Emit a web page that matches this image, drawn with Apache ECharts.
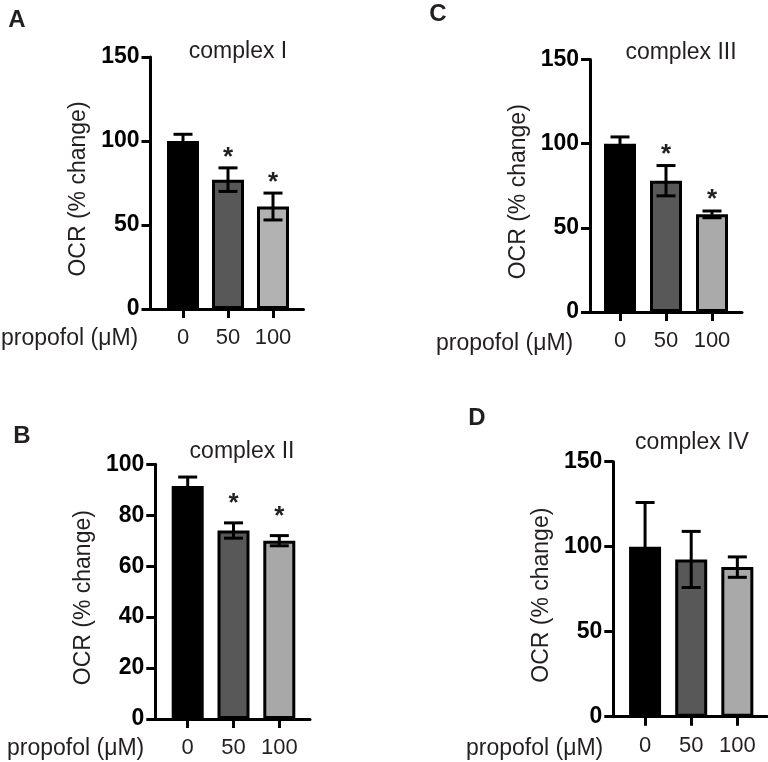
<!DOCTYPE html>
<html>
<head>
<meta charset="utf-8">
<script src="https://cdn.jsdelivr.net/npm/echarts@6/dist/echarts.min.js"></script>
<style>
  html, body { margin: 0; padding: 0; background: #fff; }
  #chart { width: 768px; height: 762px; }
</style>
</head>
<body>
<div id="chart"></div>
<script>
// data
const categories = ['0', '50', '100'];

const complexI = [100, 77, 61];
const complexIErr = [4, 7, 8];
const complexISig = [false, true, true];

const complexII = [91.5, 74, 70];
const complexIIErr = [3.5, 3, 2];
const complexIISig = [false, true, true];

const complexIII = [100, 78, 58];
const complexIIIErr = [4, 9, 2];
const complexIIISig = [false, true, true];

const complexIV = [100, 92.5, 88];
const complexIVErr = [26, 16.5, 6];
const complexIVSig = [false, false, false];

const ticks150 = { max: 150, interval: 50 };
const ticks100 = { max: 100, interval: 20 };

// layout per panel (pixels)
const panels = [
  { letter: 'A', title: 'complex I', means: complexI, err: complexIErr, sig: complexISig, ticks: ticks150,
    top: 57, height: 252, frameLeft: 150.5, frameW: 153, mainLeft: 160.5, mainW: 135,
    titleX: 238, titleY: 52, letterX: 17, letterY: 20, propX: 1, propY: 339, starGap: 16, lightGray: '#b2b2b2' },
  { letter: 'B', title: 'complex II', means: complexII, err: complexIIErr, sig: complexIISig, ticks: ticks100,
    top: 464.3, height: 254.7, frameLeft: 155.3, frameW: 154.7, mainLeft: 164.8, mainW: 137.4,
    titleX: 242, titleY: 452, letterX: 22, letterY: 436, propX: 7, propY: 749, starGap: 25, lightGray: '#a8a8a8' },
  { letter: 'C', title: 'complex III', means: complexIII, err: complexIIIErr, sig: complexIIISig, ticks: ticks150,
    top: 59.5, height: 252.5, frameLeft: 590, frameW: 152, mainLeft: 597, mainW: 138,
    titleX: 681, titleY: 53, letterX: 438, letterY: 14, propX: 436, propY: 344, starGap: 17, lightGray: '#aaaaaa' },
  { letter: 'D', title: 'complex IV', means: complexIV, err: complexIVErr, sig: complexIVSig, ticks: ticks150,
    top: 461.7, height: 255, frameLeft: 613.3, frameW: 153.7, mainLeft: 622, mainW: 138.4,
    titleX: 692, titleY: 443, letterX: 477, letterY: 418, propX: 466, propY: 749, starGap: 17, lightGray: '#a9a9a9' }
];

const FONT = '"Liberation Sans", Arial, Helvetica, sans-serif';
const INK = '#000';

const chart = echarts.init(document.getElementById('chart'), null, { renderer: 'canvas' });

const grid = [], xAxis = [], yAxis = [], series = [], graphic = [];

panels.forEach((p, i) => {
  const fg = i * 2, mg = i * 2 + 1;
  // frame grid: y axis + full length x axis line
  grid.push({ left: p.frameLeft, top: p.top, width: p.frameW, height: p.height });
  // main grid: bars
  grid.push({ left: p.mainLeft, top: p.top, width: p.mainW, height: p.height });

  xAxis.push({
    gridIndex: fg, type: 'value', min: 0, max: 1,
    axisLine: { show: true, lineStyle: { color: INK, width: 3 } },
    axisTick: { show: false }, axisLabel: { show: false }, splitLine: { show: false }
  });
  xAxis.push({
    gridIndex: mg, type: 'category', data: categories,
    axisLine: { show: false },
    axisTick: { show: true, interval: 0, alignWithLabel: true, length: 9, lineStyle: { color: INK, width: 3 } },
    axisLabel: { interval: 0, fontSize: 22, color: '#231f20', fontFamily: FONT, margin: 18 }
  });

  yAxis.push({
    gridIndex: fg, type: 'value', min: 0, max: p.ticks.max, interval: p.ticks.interval,
    name: 'OCR (% change)', nameLocation: 'middle', nameGap: 60,
    nameTextStyle: { fontSize: 23, color: '#231f20', fontFamily: FONT, padding: [0, 12, 0, 0] },
    axisLine: { show: true, lineStyle: { color: INK, width: 3 } },
    axisTick: { show: true, length: 9, lineStyle: { color: INK, width: 3 } },
    axisLabel: { fontSize: 23, fontWeight: 'bold', color: '#000', fontFamily: FONT, margin: 11 },
    splitLine: { show: false }
  });
  yAxis.push({ gridIndex: mg, type: 'value', min: 0, max: p.ticks.max, show: false });

  const barColors = ['#000000', '#585858', p.lightGray];
  series.push({
    type: 'bar', xAxisIndex: mg, yAxisIndex: mg, barWidth: 32,
    data: p.means.map((v, k) => ({ value: v, itemStyle: { color: barColors[k] } })),
    itemStyle: { borderColor: INK, borderWidth: 3 },
    silent: true
  });
  series.push({
    type: 'custom', xAxisIndex: mg, yAxisIndex: mg, z: 5, silent: true,
    data: p.means.map((v, k) => [k, v, p.err[k], p.sig[k] ? 1 : 0]),
    renderItem: (params, api) => {
      const k = api.value(0), m = api.value(1), e = api.value(2);
      const hi = api.coord([k, m + e]);
      const lo = api.coord([k, m - e]);
      const cap = 9.5;
      const st = { stroke: INK, lineWidth: 3 };
      const children = [
        { type: 'line', shape: { x1: hi[0], y1: hi[1], x2: lo[0], y2: lo[1] }, style: st },
        { type: 'line', shape: { x1: hi[0] - cap, y1: hi[1], x2: hi[0] + cap, y2: hi[1] }, style: st },
        { type: 'line', shape: { x1: lo[0] - cap, y1: lo[1], x2: lo[0] + cap, y2: lo[1] }, style: st }
      ];
      if (api.value(3)) {
        children.push({
          type: 'text', x: hi[0], y: hi[1] - p.starGap + 6,
          style: { text: '*', font: 'bold 26px ' + FONT, fill: '#231f20', textAlign: 'center', textVerticalAlign: 'middle' }
        });
      }
      return { type: 'group', children };
    }
  });

  graphic.push(
    { type: 'text', x: p.letterX, y: p.letterY,
      style: { text: p.letter, font: 'bold 24px ' + FONT, fill: '#231f20', textAlign: 'center', textVerticalAlign: 'middle' } },
    { type: 'text', x: p.titleX, y: p.titleY,
      style: { text: p.title, font: '23px ' + FONT, fill: '#231f20', textAlign: 'center', textVerticalAlign: 'middle' } },
    { type: 'text', x: p.propX, y: p.propY,
      style: { text: 'propofol (μM)', font: '23px ' + FONT, fill: '#231f20', textAlign: 'left', textVerticalAlign: 'middle' } }
  );
});

chart.setOption({
  animation: false,
  backgroundColor: '#fff',
  grid, xAxis, yAxis, series, graphic
});
</script>
</body>
</html>
